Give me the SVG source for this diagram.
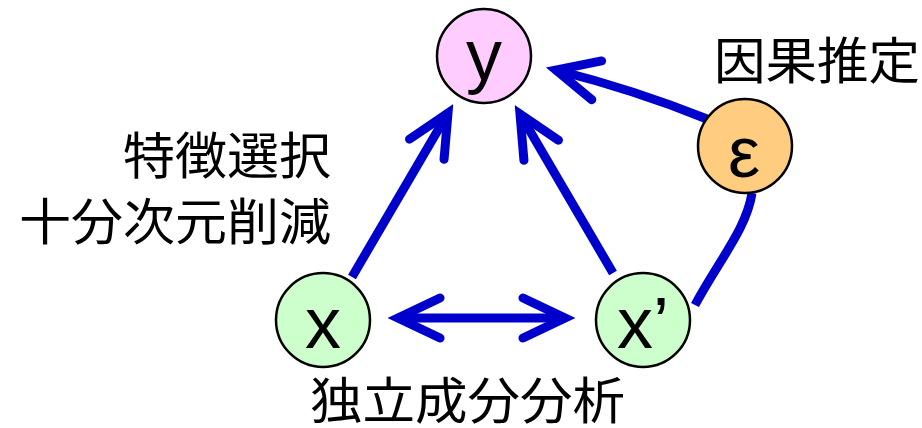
<svg xmlns="http://www.w3.org/2000/svg" width="922" height="428" viewBox="0 0 922 428">
<style>
.node{stroke:#000;stroke-width:2.5}
.lbl{font-family:"Liberation Sans",Arial,sans-serif;font-size:72px;fill:#000;text-anchor:middle}
.jp{font-family:"Noto Sans CJK JP","Noto Sans CJK SC",sans-serif;font-size:50px;fill:#000}
.edge{fill:none;stroke:#0000CC;stroke-width:9}
</style>
<defs>
<marker id="ah" markerUnits="userSpaceOnUse" viewBox="-60 -30 70 60" refX="0" refY="0" markerWidth="70" markerHeight="60" orient="auto-start-reverse">
<path d="M-42,-20 L0,0 L-42,20" fill="none" stroke="#0000CC" stroke-width="9" stroke-linecap="round" stroke-linejoin="miter"/>
</marker>
</defs>
<g id="connectors">
<path class="edge" d="M352,277 L448,113" marker-end="url(#ah)"/>
<path class="edge" d="M613,273 L520,114" marker-end="url(#ah)"/>
<path class="edge" d="M398,318 L565,318" marker-start="url(#ah)" marker-end="url(#ah)"/>
<path class="edge" d="M707,119 Q635,90 556,70" marker-end="url(#ah)"/>
<path class="edge" d="M752,193 C747,228 718,262 695,305"/>
</g>
<g id="node-y">
<circle class="node" cx="484" cy="56" r="47" fill="#FFCCFF"/>
<text class="lbl" x="484" y="80">y</text>
</g>
<g id="node-eps">
<circle class="node" cx="745" cy="146" r="47" fill="#FFCC80"/>
<text class="lbl" x="744" y="177">ε</text>
</g>
<g id="node-x">
<circle class="node" cx="323" cy="320" r="47" fill="#CCFFCC"/>
<text class="lbl" x="323" y="348">x</text>
</g>
<g id="node-x2">
<circle class="node" cx="643" cy="320" r="47" fill="#CCFFCC"/>
<text class="lbl" x="643" y="348">x’</text>
</g>
<g id="labels">
<text class="jp" transform="translate(714,79) scale(1.03,1)">因果推定</text>
<text class="jp" transform="translate(331,174) scale(1.04,1)" text-anchor="end">特徴選択</text>
<text class="jp" transform="translate(331,240) scale(1.04,1)" text-anchor="end">十分次元削減</text>
<text class="jp" transform="translate(310,419) scale(1.05,1)">独立成分分析</text>
</g>
</svg>
